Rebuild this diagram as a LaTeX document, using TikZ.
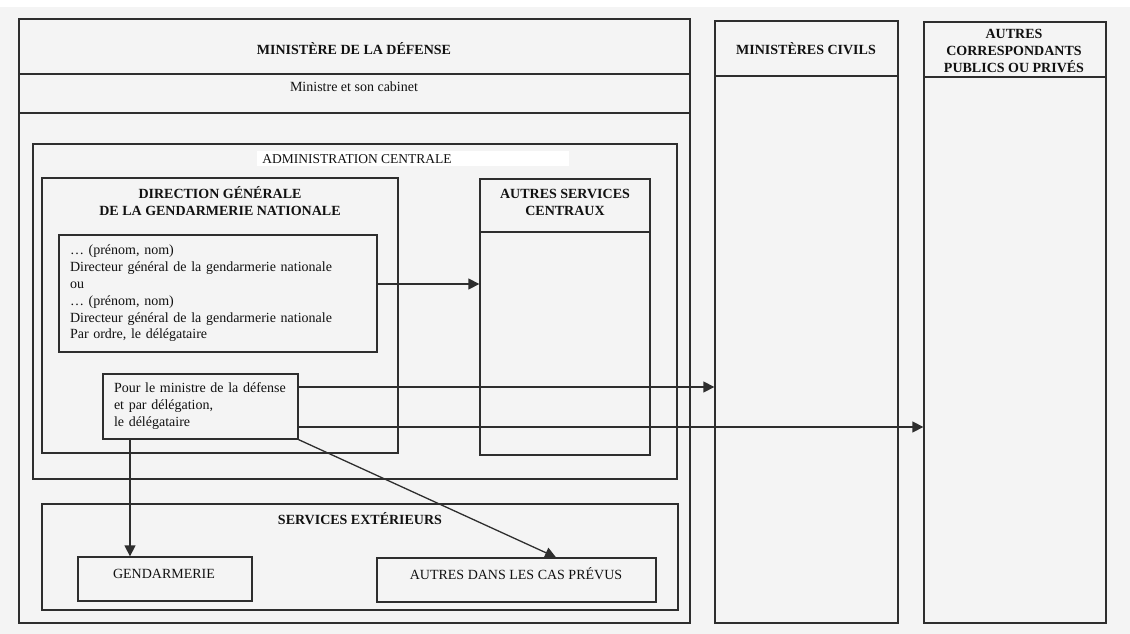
\documentclass[tikz,border=0pt]{standalone}
\usepackage{fontspec}
\setmainfont{Liberation Serif}
\usetikzlibrary{arrows.meta}
\definecolor{bgc}{HTML}{F4F4F4}
\definecolor{lnc}{HTML}{2E2E2E}
\definecolor{txc}{HTML}{111111}
\begin{document}
\begin{tikzpicture}[x=1pt,y=-1pt,
  box/.style={draw=lnc, line width=1.3pt, rectangle, inner sep=0pt},
  txt/.style={font=\fontsize{14}{17}\selectfont, text=txc, inner sep=0pt, align=center},
  btxt/.style={font=\fontsize{14}{17}\selectfont\bfseries, text=txc, inner sep=0pt, align=center},
  sep/.style={draw=lnc, line width=1.3pt},
  arr/.style={draw=lnc, line width=1.3pt, -{Triangle[length=11pt,width=11pt]}},
]
\useasboundingbox (0,0) rectangle (1130,634);
\fill[bgc] (0,0) rectangle (1130,634);
\fill[white] (0,0) rectangle (1130,7);

% main columns
\node[box, minimum width=671pt, minimum height=604pt] (MD) at (354.5,321) {};
\node[box, minimum width=183pt, minimum height=602pt] (MC) at (806.5,322) {};
\node[box, minimum width=182pt, minimum height=601pt] (ACP) at (1015,322.5) {};

\draw[sep] (MD.west |- 0,74) -- (MD.east |- 0,74);
\draw[sep] (MD.west |- 0,113) -- (MD.east |- 0,113);
\draw[sep] (MC.west |- 0,76) -- (MC.east |- 0,76);
\draw[sep] (ACP.west |- 0,77) -- (ACP.east |- 0,77);

\node[btxt] (tMD) at (354,49) {MINISTÈRE DE LA DÉFENSE};
\node[txt] (tMin) at (354,87) {Ministre et son cabinet};
\node[btxt] (tMC) at (806,49) {MINISTÈRES CIVILS};
\node[btxt] (tACP) at (1014,50.5) {AUTRES\\CORRESPONDANTS\\PUBLICS OU PRIVÉS};

% administration centrale
\node[box, minimum width=644pt, minimum height=335pt] (AC) at (355,311.5) {};
\fill[white] (257,151) rectangle (569,166);
\node[txt, font=\fontsize{13.5}{16}\selectfont] (tAC) at (357,159) {ADMINISTRATION CENTRALE};

\node[box, minimum width=356pt, minimum height=275pt] (DG) at (220,315.5) {};
\node[btxt] (tDG) at (220,201.5) {DIRECTION GÉNÉRALE\\DE LA GENDARMERIE NATIONALE};

\node[box, minimum width=318pt, minimum height=117pt, inner xsep=11pt, inner ysep=0pt,
      text width=296pt, align=left, font=\fontsize{14}{16.8}\selectfont, text=txc] (NB) at (218,293.5)
  {… (prénom, nom)\\Directeur général de la gendarmerie nationale\\ou\\… (prénom, nom)\\Directeur général de la gendarmerie nationale\\Par ordre, le délégataire};

\node[box, minimum width=195pt, minimum height=65pt, inner xsep=11pt, inner ysep=0pt,
      text width=173pt, align=left, font=\fontsize{14}{17}\selectfont, text=txc] (PB) at (200.5,406.5)
  {Pour le ministre de la défense\\et par délégation,\\le délégataire};

\node[box, minimum width=170pt, minimum height=276pt] (ASC) at (565,317) {};
\draw[sep] (ASC.west |- 0,232) -- (ASC.east |- 0,232);
\node[btxt] (tASC) at (565,202.5) {AUTRES SERVICES\\CENTRAUX};

% services exterieurs
\node[box, minimum width=636pt, minimum height=106pt] (SE) at (360,557) {};
\node[btxt] (tSE) at (360,519) {SERVICES EXTÉRIEURS};
\node[box, minimum width=174pt, minimum height=44pt] (GB) at (165,579) {};
\node[txt] (tGB) at (164,573.5) {GENDARMERIE};
\node[box, minimum width=279pt, minimum height=44pt] (AB) at (516.5,580) {};
\node[txt] (tAB) at (516,573.5) {AUTRES DANS LES CAS PRÉVUS};

% connectors
\coordinate (n1) at ([yshift=9.5pt]NB.east);
\draw[arr] (n1) -- (n1 -| ASC.west);
\coordinate (p1) at ([yshift=19.5pt]PB.east);
\draw[arr] (p1) -- (p1 -| MC.west);
\coordinate (p2) at ([yshift=-20.5pt]PB.east);
\draw[arr] (p2) -- (p2 -| ACP.west);
\coordinate (v1) at ([xshift=-70.5pt]PB.south);
\draw[arr] (v1) -- (v1 |- GB.north);
\coordinate (d2) at ([xshift=39.5pt]AB.north);
\draw[arr] (PB.south east) -- (d2);
\end{tikzpicture}
\end{document}
